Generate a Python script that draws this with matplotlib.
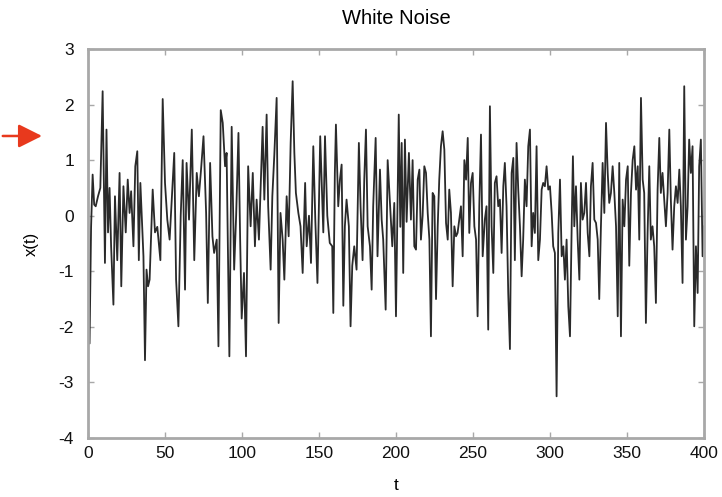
import numpy as np
import matplotlib
matplotlib.use("Agg")
import matplotlib.pyplot as plt
from matplotlib.patches import FancyArrowPatch

# values (t, x(t))
t = [0, 1, 2, 3, 4, 5, 6.5, 8, 9.5, 11, 12, 13, 14, 15, 16.5, 17.5, 19, 20.5, 21.6, 23,
     24.5, 25.8, 27, 28, 29.5, 30.7, 32, 33, 34, 36, 37, 38, 39, 40, 42, 43.5, 45, 47, 48.5, 50,
     51.5, 53, 54.4, 56, 57.2, 58.7, 60.2, 61.5, 63, 64, 65.6, 67.4, 69, 70.6, 72, 73.4, 75, 76.7, 77.8, 79.3,
     80.8, 81.9, 83.6, 84.7, 86.2, 87.5, 89, 90, 91.8, 93.3, 94.9, 96.2, 97.7, 98.8, 99.8,
     101.3, 102.6, 104, 105.6, 107, 108.4, 109.5, 111, 112.3, 113.4, 114.5, 116, 117, 118.6, 119.7,
     121, 122.5, 123.8, 125, 126.4, 127.5, 129, 130.3, 131.6, 132.9, 134, 135, 136.6, 138, 139.4,
     141, 142, 143.5, 144.8, 146.3, 147.6, 149, 150.8,
     152.8, 153.9, 155.4, 157, 158.6, 159.3, 160.3, 161, 162.5, 163.6, 164.7, 165.8, 166.8, 167.9, 169.4,
     170.5, 171.6, 172.9, 174.4, 175.9, 177, 178.3, 179.4, 180.5, 181.6, 183.1, 184.2, 185.2, 186.8, 188,
     189.6, 190.7, 191.7, 193.3, 194.6, 196, 197.6, 198.9, 200, 201.8, 202.8, 203.7, 204.7, 205.8,
     206.9, 208.4, 209.7, 210.8, 211.9, 213, 214.1, 215.2, 216.2, 217.3, 218.4, 219.5, 220.6, 221.7, 222.7,
     223.8, 224.9, 226, 227.1, 228.1, 229.2, 230.3, 231.4, 232.5, 233.6, 234.6, 235.7, 236.8, 237.9, 239,
     240, 241.1, 242.2, 243.3, 244.4, 245.5, 246.6, 247.6, 248.7, 249.8, 250.9, 252, 253, 254.1, 255.2, 256.3,
     257.7, 258.8, 259.9, 261, 262.1, 263.2, 264.2, 265.3, 266.4, 267.5, 268.6, 269.7, 270.7, 271.8, 272.9,
     274, 275.1, 276.2, 277.2, 278.3, 279.4, 280.5, 281.6, 282.6, 283.7, 284.8, 285.9, 287, 288.1, 289.1,
     290.2, 291.3, 292.4, 293.5, 294.6, 295.6, 296.7, 297.8, 298.9, 300, 301.1, 302.1, 303.2, 304.3, 305.4,
     306.5, 307.6, 308.7,
     309.7, 310.8, 311.9, 313, 314.1, 314.9, 315.8, 316.9, 318, 319.1, 320.1, 321.2, 322.3, 323.4, 324.5,
     325.6, 326.6, 327.7, 328.8, 329.9, 331, 332, 333.1, 334.2, 335.3, 336.4, 337.5, 338.5, 339.6, 340.7,
     341.8, 342.9, 344, 345, 346.1, 347.2, 348.3, 349.4, 350.5, 351.5, 352.6, 353.7, 354.8, 355.9, 357,
     358, 359.1, 360.2,
     361.2, 362.3, 363.4, 364.5, 365.5, 366.6, 367.7, 368.8, 369.9, 371, 372, 373.1, 374.2, 375.3, 376.4,
     377.5, 378.5, 379.6, 380.7, 381.8, 382.9, 384, 385, 386.1, 387.2, 388.3, 389.4, 390.4, 391.5, 392.6,
     393.7, 394.8, 395.9, 396.9, 398, 399.1, 400]

x = [0.0, -2.3, -0.2, 0.74, 0.2, 0.17, 0.35, 0.5, 2.24, -0.85, 1.55, -0.3, 0.5, -0.55, -1.6, 0.35, -0.8, 0.77, -1.27, 0.53,
     -0.3, 0.65, 0.05, 0.44, -0.55, 0.89, 1.16, -0.8, 0.59, -0.73, -2.6, -0.97, -1.27, -1.15, 0.47, -0.3, -0.2, -0.8, 2.1, 0.59,
     -0.07, -0.43, 0.29, 1.13, -1.15, -1.99, 0.0, 1.0, -1.33, 0.95, -0.07, 1.55, -0.8, 0.77, 0.35, 0.83, 1.43, 0.05, -1.57, 0.95,
     -0.37, -0.67, -0.43, -2.35, 1.9, 1.67, 0.89, 1.13, -2.53, 1.6, -0.97, 0.0, 1.49, -0.43, -1.85,
     -1.03, -2.53, 0.89, -0.19, 0.77, -0.55, 0.29, -0.43, 0.65, 1.6, 0.29, 1.82, 0.17, -0.97, 0.35,
     1.1, 2.12, -1.93, 0.05, -0.43, -1.15, 0.35, -0.37, 1.31, 2.42, 1.13, 0.41, 0.05, -0.19, -1.03,
     0.59, -0.55, 0.0, -0.85, 1.25, -0.07, -1.21, 1.43,
     -0.3, 1.43, 0.0, -0.49, -0.55, -1.75, 0.77, 1.64, 0.17, 0.65, 0.92, -1.62, -0.19, 0.29, -0.19,
     -1.99, -0.9, -0.55, -0.97, 1.31, 0.17, -0.8, 0.65, 1.55, -0.19, -0.55, -1.33, 0.17, 1.4, -0.73,
     0.83, -0.07, -0.43, -1.69, 1.0, 0.29, -0.55, 0.23, -1.81, 1.82, -0.2, 1.31, -1.03, 1.37,
     -0.11, 1.13, -0.07, 1.0, -0.55, -0.61, 0.65, 0.83, -0.43, 0.0, 0.89, 0.77, 0.05, -0.43, -2.17,
     0.41, 0.35, -1.5, -0.19, 0.65, 1.25, 1.52, 1.19, -0.13, -0.43, 0.47, 0.05, -1.27, -0.19, -0.37,
     -0.31, -0.07, 0.17, -0.73, 1.0, 0.65, 1.4, -0.31, 0.59, 0.77, -0.19, -0.43, -1.81, 0.17, 1.46, -0.73,
     -0.07, 0.17, -2.05, 1.97, -0.19, -1.03, 0.59, 0.71, 0.17, 0.29, -0.67, 0.53, 0.95, 0.17, -1.39,
     -2.4, 0.77, 1.04, -0.8, 1.31, 0.47, -0.19, -1.09, -0.43, 0.65, 0.17, 1.25, 1.55, -0.55, 0.05,
     -0.31, 1.25, -0.8, -0.43, 0.47, 0.59, 0.53, 0.89, 0.47, 0.53, 0.05, -0.55, -0.67, -3.25, -0.31,
     0.65, -0.73, -0.55,
     -1.15, -0.43, -1.63, -2.17, -0.19, 1.07, -0.19, 0.53, -0.43, -1.15, 0.59, -0.07, 0.05, 0.59, -0.31,
     -0.73, 0.53, 0.95, -0.07, -0.13, -0.43, -1.5, -0.19, 0.95, 0.05, 1.67, 0.77, 0.23, 0.41, 0.89,
     0.41, -0.19, -1.81, 0.95, -2.17, 0.29, -0.19, 0.65, 0.89, -0.9, 0.41, 1.0, 1.25, 0.47, 0.89,
     -0.43, 2.12, 0.65,
     0.41, -1.93, -0.31, 0.89, -0.43, -0.19, -0.55, -1.57, 0.47, 1.4, 0.41, 0.77, 0.29, -0.19, 0.41,
     1.55, 0.29, -0.61, 0.17, 0.53, 0.23, 0.83, 0.17, -1.21, 2.33, -0.43, 0.17, 1.37, 0.77, 1.25,
     -1.99, -0.55, -1.39, 0.89, 1.37, -0.73, -0.19]

xticks = [0, 50, 100, 150, 200, 250, 300, 350, 400]
yticks = [-4, -3, -2, -1, 0, 1, 2, 3]

plt.rcParams['font.family'] = ['Liberation Sans', 'DejaVu Sans']
plt.rcParams['axes.unicode_minus'] = False

fig = plt.figure(figsize=(7.22, 4.97), dpi=100)
ax = fig.add_axes([0.1219, 0.1187, 0.8531, 0.7827])

ax.plot(t, x, color='#2a2a2a', lw=1.3)

ax.set_xlim(0, 400)
ax.set_ylim(-4, 3)
ax.set_xticks(xticks)
ax.set_yticks(yticks)
for s in ax.spines.values():
    s.set_color('#a8a8a8')
    s.set_linewidth(2)
ax.tick_params(direction='in', length=4, width=1, color='#a8a8a8',
               top=True, right=True, labelsize=12.5, labelcolor='#111111')
ax.tick_params(axis='y', pad=10)
ax.tick_params(axis='x', pad=6)

ax.set_title('White Noise', fontsize=14.5, pad=18)
ax.set_xlabel('t', fontsize=12.5, labelpad=12)
ax.set_ylabel('x(t)', fontsize=12, labelpad=14)

# red pointer arrow on the left
arr = FancyArrowPatch((0.0, 0.7264), (0.062, 0.7264), transform=fig.transFigure,
                      arrowstyle='-|>,head_length=0.72,head_width=0.36',
                      mutation_scale=20, lw=1.8, color='#e8391d')
fig.patches.append(arr)

fig.savefig('out.png', dpi=100)
